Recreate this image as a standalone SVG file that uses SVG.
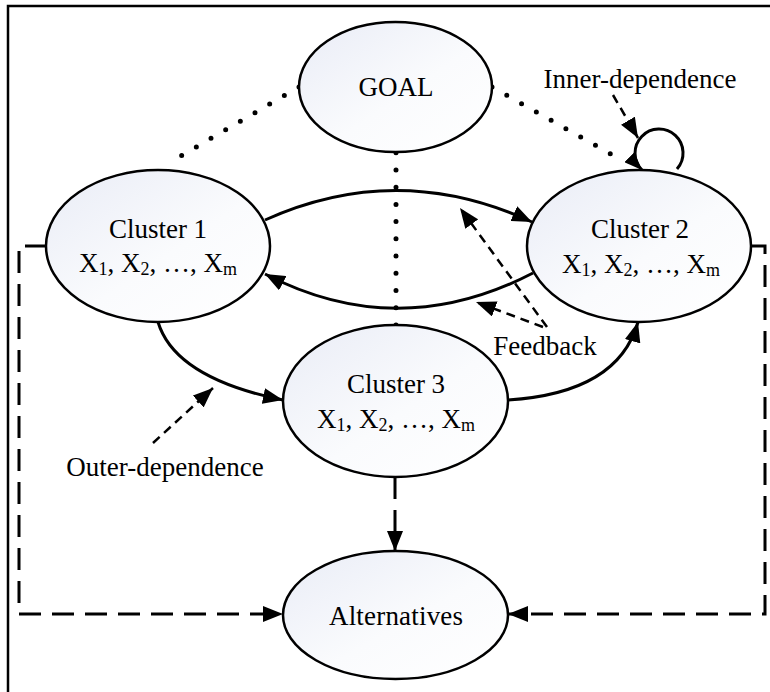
<svg xmlns="http://www.w3.org/2000/svg" width="770" height="692" viewBox="0 0 770 692">
<defs>
<linearGradient id="fill" x1="0" y1="0" x2="1" y2="1">
<stop offset="0" stop-color="#e9ecf6"/>
<stop offset="0.55" stop-color="#fafbfd"/>
<stop offset="1" stop-color="#ffffff"/>
</linearGradient>
<marker id="ah" viewBox="0 0 20 16" refX="20" refY="8" markerWidth="20" markerHeight="16" markerUnits="userSpaceOnUse" orient="auto"><path d="M0,0 L20,8 L0,16 z" fill="#000"/></marker>
<marker id="ahs" viewBox="0 0 18 14" refX="18" refY="7" markerWidth="18" markerHeight="14" markerUnits="userSpaceOnUse" orient="auto"><path d="M0,0 L18,7 L0,14 z" fill="#000"/></marker>
</defs>
<style>
.node ellipse{fill:url(#fill);stroke:#000;stroke-width:2.5}
text{font-family:"Liberation Serif","Times New Roman",serif;font-size:27px;fill:#000}
.sub{font-size:18px}
.solid{fill:none;stroke:#000;stroke-width:3}
.dot{fill:none;stroke:#000;stroke-width:5;stroke-linecap:round}
.dash{fill:none;stroke:#000;stroke-width:3;stroke-dasharray:22 11}
.sdash{fill:none;stroke:#000;stroke-width:2.5;stroke-dasharray:9 6}
</style>
<rect x="8" y="6" width="800" height="700" fill="#fff" stroke="#000" stroke-width="2.5"/>
<g id="connectors">
<path class="dot" d="M299,87 L167,164" stroke-dasharray="0 16.98"/>
<path class="dot" d="M492,87 L625,162" stroke-dasharray="0 16.97"/>
<path class="dot" d="M396,152.7 L396,325" stroke-dasharray="0 17.23"/>
<path class="solid" d="M265,220 Q398,160 532,222" marker-end="url(#ah)"/>
<path class="solid" d="M533,273 Q398,343 265,274" marker-end="url(#ah)"/>
<path class="solid" d="M158,322 Q175,378 283,400" marker-end="url(#ah)"/>
<path class="solid" d="M508,400 Q618,393 638,322" marker-end="url(#ah)"/>
<path class="solid" d="M677,169 A24,24 0 1 0 642,170" marker-end="url(#ahs)"/>
<path class="dash" d="M395,477 L395,551" marker-end="url(#ah)"/>
<path class="dash" d="M47,246 L19,246 L19,614 L283,614" marker-end="url(#ah)"/>
<path class="dash" d="M751,246 L765,246 L765,614 L508,614" marker-end="url(#ah)"/>
<path class="sdash" d="M547,327 L460,208" marker-end="url(#ah)"/>
<path class="sdash" d="M543,327 L476,302" marker-end="url(#ah)"/>
<path class="sdash" d="M153,443 L213,388" marker-end="url(#ah)"/>
<path class="sdash" d="M613,95 L638,138" marker-end="url(#ah)"/>
</g>
<g id="goal" class="node">
<ellipse cx="395.5" cy="87" rx="96.5" ry="65"/>
<text x="396" y="96" text-anchor="middle">GOAL</text>
</g>
<g id="cluster1" class="node">
<ellipse cx="158" cy="246" rx="112" ry="76"/>
<text x="158" y="238" text-anchor="middle">Cluster 1</text>
<text x="158" y="272" text-anchor="middle">X<tspan class="sub" dy="3">1</tspan><tspan dy="-3">, X</tspan><tspan class="sub" dy="3">2</tspan><tspan dy="-3">, …, X</tspan><tspan class="sub" dy="3">m</tspan></text>
</g>
<g id="cluster2" class="node">
<ellipse cx="639" cy="246" rx="112" ry="76"/>
<text x="640" y="238" text-anchor="middle">Cluster 2</text>
<text x="641" y="273" text-anchor="middle">X<tspan class="sub" dy="3">1</tspan><tspan dy="-3">, X</tspan><tspan class="sub" dy="3">2</tspan><tspan dy="-3">, …, X</tspan><tspan class="sub" dy="3">m</tspan></text>
</g>
<g id="cluster3" class="node">
<ellipse cx="395.5" cy="401" rx="112.5" ry="76"/>
<text x="396" y="393" text-anchor="middle">Cluster 3</text>
<text x="396" y="428" text-anchor="middle">X<tspan class="sub" dy="3">1</tspan><tspan dy="-3">, X</tspan><tspan class="sub" dy="3">2</tspan><tspan dy="-3">, …, X</tspan><tspan class="sub" dy="3">m</tspan></text>
</g>
<g id="alternatives" class="node">
<ellipse cx="395.5" cy="615" rx="112.5" ry="64"/>
<text x="396" y="625" text-anchor="middle" textLength="134" lengthAdjust="spacing">Alternatives</text>
</g>
<g id="labels">
<text x="640" y="88" text-anchor="middle">Inner-dependence</text>
<text x="545" y="355" text-anchor="middle">Feedback</text>
<text x="165" y="476" text-anchor="middle">Outer-dependence</text>
</g>
</svg>
